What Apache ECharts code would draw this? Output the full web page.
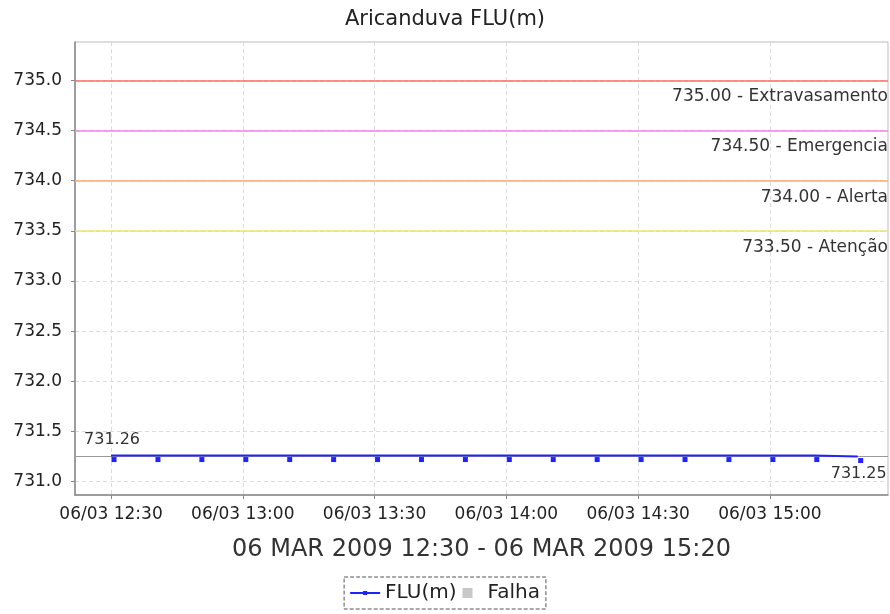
<!DOCTYPE html>
<html>
<head>
<meta charset="utf-8">
<script src="https://cdn.jsdelivr.net/npm/echarts@6/dist/echarts.min.js"></script>
<style>
  html, body { margin: 0; padding: 0; background: #fff; }
  #main { width: 890px; height: 614px; }
</style>
</head>
<body>
<div id="main"></div>
<script>
// dados
var horarios = ['12:30', '12:40', '12:50', '13:00', '13:10', '13:20', '13:30', '13:40', '13:50',
                '14:00', '14:10', '14:20', '14:30', '14:40', '14:50', '15:00', '15:10', '15:20'];
var nivel = [731.26, 731.26, 731.26, 731.26, 731.26, 731.26, 731.26, 731.26, 731.26,
             731.26, 731.26, 731.26, 731.26, 731.26, 731.26, 731.26, 731.26, 731.25];
var cotas = [735.0, 734.5, 734.0, 733.5];
var cotasNomes = ['Extravasamento', 'Emergencia', 'Alerta', 'Atenção'];
var cotasCores = ['#ff6b6b', '#ee82ee', '#ffaa66', '#f2e070'];
var nivelAtual = 731.25;
var xTicks = ['12:30', '13:00', '13:30', '14:00', '14:30', '15:00'];
var yTicks = [731.0, 731.5, 732.0, 732.5, 733.0, 733.5, 734.0, 734.5, 735.0];

function toMin(s) {
    var p = s.split(':');
    return parseInt(p[0], 10) * 60 + parseInt(p[1], 10);
}
function fmtMin(v) {
    var h = Math.floor(v / 60), m = Math.round(v % 60);
    return (h < 10 ? '0' : '') + h + ':' + (m < 10 ? '0' : '') + m;
}

var serieData = [];
for (var i = 0; i < horarios.length; i++) {
    var item = { value: [toMin(horarios[i]), nivel[i]] };
    if (i === 0) {
        item.label = { show: true, position: 'top', distance: 9, offset: [-2, 0] };
    } else if (i === horarios.length - 1) {
        item.label = { show: true, position: 'bottom', distance: 2, offset: [-2, 1] };
    }
    serieData.push(item);
}

var linhas = [];
cotas.forEach(function (c, k) {
    linhas.push({
        yAxis: c,
        lineStyle: { color: cotasCores[k], width: 1.5, type: 'solid' },
        label: {
            show: true,
            position: 'insideEndBottom',
            distance: [0, 8],
            formatter: c.toFixed(2) + ' - ' + cotasNomes[k],
            color: '#333',
            fontSize: 17,
            fontFamily: 'DejaVu Sans'
        }
    });
});
linhas.push({
    yAxis: nivelAtual,
    lineStyle: { color: '#999', width: 1, type: 'solid' },
    label: { show: false }
});

var myChart = echarts.init(document.getElementById('main'));

var option = {
    backgroundColor: '#fff',
    animation: false,
    textStyle: { fontFamily: 'DejaVu Sans' },
    title: {
        text: 'Aricanduva FLU(m)',
        left: 'center',
        top: 4,
        textStyle: { fontSize: 21, fontWeight: 'normal', color: '#222', fontFamily: 'DejaVu Sans' }
    },
    grid: {
        left: 75, right: 2, top: 42, bottom: 119,
        show: true,
        borderColor: '#bbb',
        borderWidth: 1
    },
    legend: {
        bottom: 5,
        left: 'center',
        itemWidth: 30,
        itemHeight: 10,
        itemGap: 6,
        padding: [6, 6],
        borderColor: '#555',
        borderWidth: 1,
        borderType: 'dashed',
        symbolKeepAspect: true,
        textStyle: { fontSize: 20, color: '#222', fontFamily: 'DejaVu Sans' },
        data: [
            { name: 'FLU(m)', icon: 'path://M0,4 L30,4 L30,6 L0,6 Z M13,3 L17,3 L17,7 L13,7 Z' },
            { name: 'Falha', icon: 'path://M0,0 L10,0 L10,10 L0,10 Z', itemStyle: { color: '#c8c8c8' } }
        ]
    },
    xAxis: {
        type: 'value',
        min: 741.8,
        max: 926.9,
        name: '06 MAR 2009 12:30 - 06 MAR 2009 15:20',
        nameLocation: 'middle',
        nameGap: 43,
        nameTextStyle: { fontSize: 24, color: '#333', fontFamily: 'DejaVu Sans' },
        axisLine: { show: true, lineStyle: { color: '#888', width: 1.5 } },
        axisTick: { show: true, length: 4, lineStyle: { color: '#888' }, customValues: xTicks.map(toMin) },
        axisLabel: {
            customValues: xTicks.map(toMin),
            formatter: function (v) { return '06/03 ' + fmtMin(v); },
            fontSize: 17, color: '#222', margin: 11, fontFamily: 'DejaVu Sans'
        },
        splitLine: { show: true, lineStyle: { color: '#dcdcdc', type: [4, 3] } }
    },
    yAxis: {
        type: 'value',
        min: 730.867,
        max: 735.382,
        axisLine: { show: true, lineStyle: { color: '#888', width: 1.5 } },
        axisTick: { show: true, length: 4, lineStyle: { color: '#888' }, customValues: yTicks },
        axisLabel: {
            customValues: yTicks,
            formatter: function (v) { return v.toFixed(1); },
            fontSize: 17, color: '#222', margin: 13, fontFamily: 'DejaVu Sans'
        },
        splitLine: { show: true, lineStyle: { color: '#dcdcdc', type: [4, 3] } }
    },
    series: [
        {
            name: 'FLU(m)',
            type: 'line',
            data: serieData,
            color: '#2222ff',
            lineStyle: { color: '#2222ff', width: 2 },
            symbol: 'rect',
            symbolSize: 5,
            symbolOffset: [3, 4],
            showAllSymbol: true,
            itemStyle: { color: '#2222ff' },
            label: { color: '#333', fontSize: 16, fontFamily: 'DejaVu Sans' },
            z: 5,
            markLine: {
                silent: true,
                symbol: 'none',
                data: linhas
            }
        },
        {
            name: 'Falha',
            type: 'line',
            data: [],
            color: '#c8c8c8'
        }
    ]
};

myChart.setOption(option);
</script>
</body>
</html>
